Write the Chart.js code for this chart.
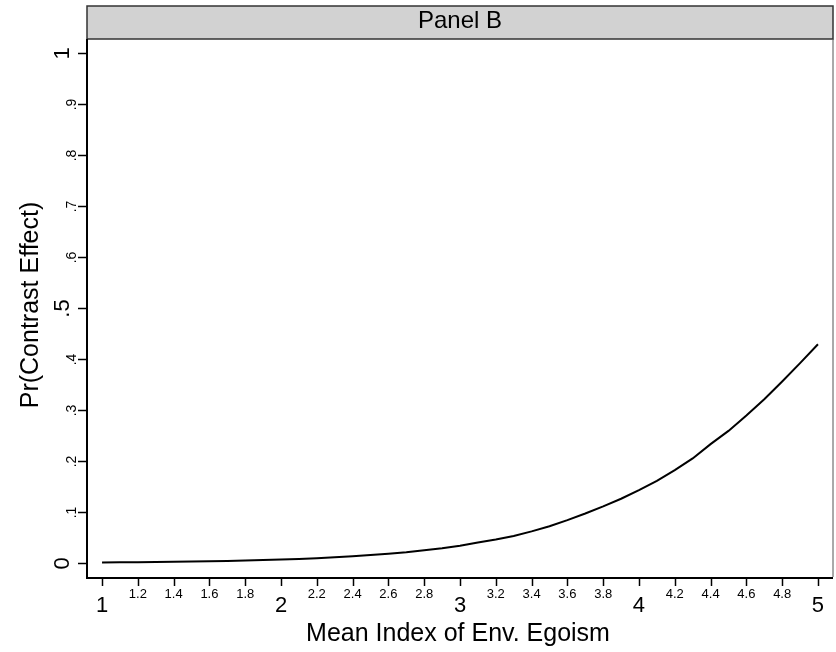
<!DOCTYPE html>
<html><head><meta charset="utf-8">
<script src="https://cdn.jsdelivr.net/npm/chart.js@4.4.0/dist/chart.umd.min.js"></script>
<style>html,body{margin:0;background:#fff}</style>
</head><body>
<canvas id="c" width="836" height="652"></canvas>
<script>
/* ========== data ========= */
const xVals=[1,1.1,1.2,1.3,1.4,1.5,1.6,1.7,1.8,1.9,2,2.1,2.2,2.3,2.4,2.5,2.6,2.7,2.8,2.9,3,3.1,3.2,3.3,3.4,3.5,3.6,3.7,3.8,3.9,4,4.1,4.2,4.3,4.4,4.5,4.6,4.7,4.8,4.9,5];
const prVals=[.001,.0013,.0016,.0019,.0023,.0028,.0034,.004,.0048,.0057,.0068,.008,.0095,.011,.013,.0155,.018,.021,.025,.029,.034,.04,.046,.053,.062,.072,.084,.097,.111,.126,.143,.161,.182,.205,.233,.259,.289,.321,.356,.392,.429];
const xMajor=[1,2,3,4,5];
const xMinor=[1.2,1.4,1.6,1.8,2.2,2.4,2.6,2.8,3.2,3.4,3.6,3.8,4.2,4.4,4.6,4.8];
const yTicks=[0,.1,.2,.3,.4,.5,.6,.7,.8,.9,1];
const yLabels=["0",".1",".2",".3",".4",".5",".6",".7",".8",".9","1"];
const yBig=[0,.5,1];
const panelTitle="Panel B", xTitle="Mean Index of Env. Egoism", yTitle="Pr(Contrast Effect)";

const FONT='"Liberation Sans", Arial, sans-serif';

/* ========== axes / frame (stata look) ========= */
const stataFrame={
  id:"stataFrame",
  afterDraw(chart){
    const {ctx,chartArea:a,scales:{x,y}}=chart;
    ctx.save();
    // header strip
    ctx.fillStyle="#d2d2d2";ctx.fillRect(a.left,a.top-33,a.right-a.left,33);
    ctx.strokeStyle="#333";ctx.lineWidth=1.5;ctx.strokeRect(a.left,a.top-33,a.right-a.left,33);
    ctx.fillStyle="#000";ctx.font="24px "+FONT;ctx.textAlign="center";ctx.textBaseline="alphabetic";
    ctx.fillText(panelTitle,(a.left+a.right)/2,a.top-11);
    // plot border
    ctx.strokeStyle="#555";ctx.lineWidth=1;
    ctx.beginPath();ctx.moveTo(a.right,a.top);ctx.lineTo(a.right,a.bottom);ctx.stroke();
    ctx.strokeStyle="#000";ctx.lineWidth=2;
    ctx.beginPath();ctx.moveTo(a.left,a.top);ctx.lineTo(a.left,a.bottom+1);ctx.lineTo(a.right,a.bottom+1);ctx.stroke();
    // y ticks
    ctx.lineWidth=1.5;
    yTicks.forEach((v,i)=>{
      const py=Math.round(y.getPixelForValue(v))+.5;
      ctx.beginPath();ctx.moveTo(a.left-9,py);ctx.lineTo(a.left,py);ctx.stroke();
      const big=yBig.includes(v);
      ctx.save();ctx.translate(big?a.left-18:a.left-11,py);ctx.rotate(-Math.PI/2);
      ctx.font=(big?"22px ":"14px ")+FONT;ctx.textAlign="center";ctx.fillText(yLabels[i],0,0);
      ctx.restore();
    });
    // x ticks
    xMajor.concat(xMinor).forEach(v=>{
      const px=Math.round(x.getPixelForValue(v))+.5;
      ctx.beginPath();ctx.moveTo(px,a.bottom+1);ctx.lineTo(px,a.bottom+9);ctx.stroke();
    });
    ctx.textAlign="center";
    ctx.font="22px "+FONT;
    xMajor.forEach(v=>ctx.fillText(String(v),x.getPixelForValue(v),a.bottom+35));
    ctx.font="13px "+FONT;
    xMinor.forEach(v=>ctx.fillText(v.toFixed(1),x.getPixelForValue(v),a.bottom+21));
    // titles
    ctx.font="25px "+FONT;
    ctx.fillText(xTitle,(a.left+a.right)/2-2,a.bottom+64);
    ctx.save();ctx.translate(38,(a.top+a.bottom)/2-3);ctx.rotate(-Math.PI/2);ctx.fillText(yTitle,0,0);ctx.restore();
    ctx.restore();
  }
};

/* ========== chart ========= */
new Chart(document.getElementById("c"),{
  type:"line",
  data:{datasets:[{data:xVals.map((v,i)=>({x:v,y:prVals[i]})),borderColor:"#000",borderWidth:2,pointRadius:0,tension:0,fill:false}]},
  options:{
    responsive:false,animation:false,devicePixelRatio:1,
    layout:{padding:{left:87,right:3,top:39,bottom:75}},
    plugins:{legend:{display:false},tooltip:{enabled:false}},
    scales:{
      x:{type:"linear",min:0.916,max:5.084,display:false},
      y:{min:-0.0275,max:1.0275,display:false}
    }
  },
  plugins:[stataFrame]
});
</script>
</body></html>
